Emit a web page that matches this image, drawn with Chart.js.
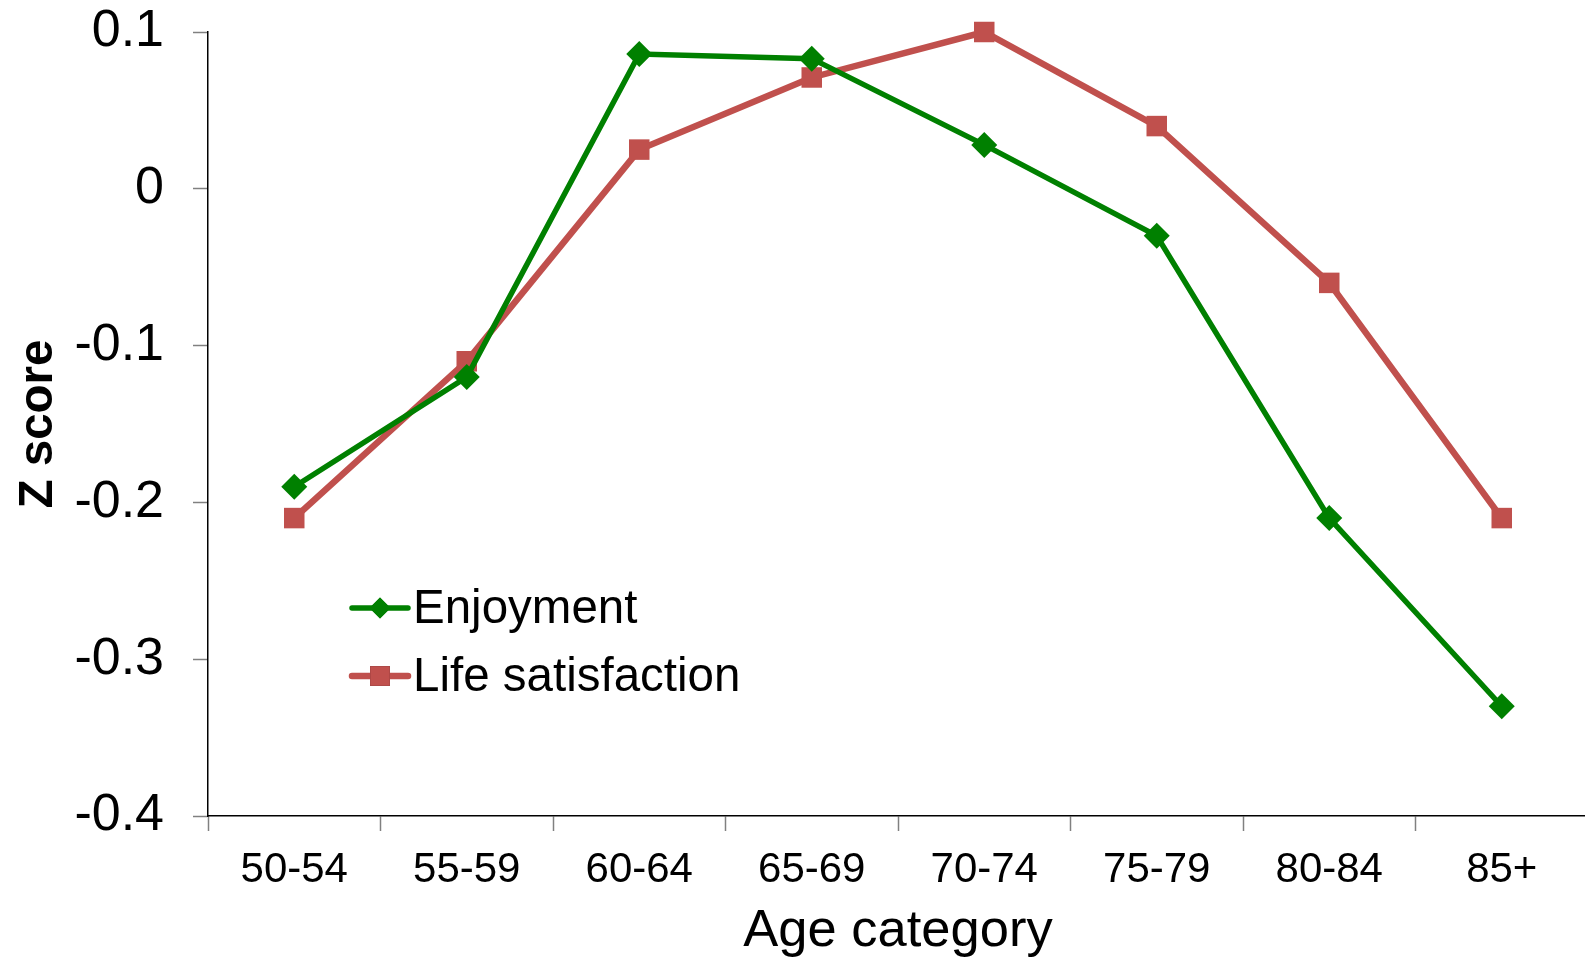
<!DOCTYPE html>
<html>
<head>
<meta charset="utf-8">
<script src="https://cdn.jsdelivr.net/npm/chart.js@4"></script>
<style>
  html, body { margin: 0; padding: 0; background: #fff; overflow: hidden; }
  canvas { display: block; }
</style>
</head>
<body>
<canvas id="chart" width="1590" height="961"></canvas>
<script>
const ageCategories = ['50-54', '55-59', '60-64', '65-69', '70-74', '75-79', '80-84', '85+'];
const enjoyment = [-0.19, -0.12, 0.086, 0.083, 0.028, -0.03, -0.21, -0.33];
const lifeSatisfaction = [-0.21, -0.11, 0.025, 0.071, 0.1, 0.04, -0.06, -0.21];
const yMin = -0.4;
const yMax = 0.1;
const yStep = 0.1;

const FONT = '"Liberation Sans", Arial, sans-serif';

// legend sits inside the plot, lower left
const insideLegend = {
  id: 'insideLegend',
  afterDraw(chart, args, opts) {
    const ctx = chart.ctx;
    ctx.save();
    chart.data.datasets.forEach((ds, i) => {
      const y = opts.y + i * opts.rowGap;
      ctx.strokeStyle = ds.borderColor;
      ctx.lineWidth = ds.borderWidth;
      ctx.lineCap = 'round';
      ctx.beginPath();
      ctx.moveTo(opts.x, y);
      ctx.lineTo(opts.x + opts.lineLen, y);
      ctx.stroke();
      Chart.helpers.drawPoint(ctx, {
        pointStyle: ds.pointStyle,
        radius: ds.pointStyle === 'rect' ? 14 : 10.5,
        borderWidth: 0
      }, opts.x + opts.lineLen / 2, y);
      ctx.fillStyle = ds.pointBackgroundColor;
      ctx.fill();
      ctx.fillStyle = '#000';
      ctx.font = opts.font;
      ctx.textBaseline = 'middle';
      ctx.textAlign = 'left';
      ctx.fillText(ds.label, opts.x + opts.lineLen + 5, y + 2);
    });
    ctx.restore();
  }
};

new Chart(document.getElementById('chart'), {
  type: 'line',
  data: {
    labels: ageCategories,
    datasets: [{
      label: 'Enjoyment',
      data: enjoyment,
      borderColor: '#008000',
      backgroundColor: '#008000',
      pointBackgroundColor: '#008000',
      pointBorderColor: '#008000',
      borderWidth: 5.5,
      pointStyle: 'rectRot',
      pointRadius: 13,
      pointBorderWidth: 0,
      tension: 0,
      clip: false
    }, {
      label: 'Life satisfaction',
      data: lifeSatisfaction,
      borderColor: '#C0504D',
      backgroundColor: '#C0504D',
      pointBackgroundColor: '#C0504D',
      pointBorderColor: '#C0504D',
      borderWidth: 6.5,
      pointStyle: 'rect',
      pointRadius: 14.5,
      pointBorderWidth: 0,
      tension: 0,
      clip: false
    }]
  },
  options: {
    responsive: false,
    animation: false,
    devicePixelRatio: 1,
    layout: { autoPadding: false, padding: { top: 32, right: 2, left: 0, bottom: 0 } },
    plugins: {
      legend: { display: false },
      tooltip: { enabled: false },
      insideLegend: {
        x: 352, y: 608, rowGap: 68, lineLen: 56,
        font: '47.5px ' + FONT
      }
    },
    scales: {
      x: {
        offset: true,
        grid: {
          offset: true,
          drawOnChartArea: false,
          drawTicks: true,
          tickLength: 15,
          tickColor: '#808080',
          tickWidth: 1.5
        },
        border: { color: '#000', width: 1.5 },
        ticks: {
          color: '#000',
          font: { family: FONT, size: 42 },
          padding: 14,
          maxRotation: 0,
          autoSkip: false
        },
        title: {
          display: true,
          text: 'Age category',
          color: '#000',
          font: { family: FONT, size: 52.5, lineHeight: 1 },
          padding: { top: 0, bottom: 3 }
        },
        afterFit(scale) {
          scale.height = 145;
          scale.paddingLeft = 0;
          scale.paddingRight = 0;
        }
      },
      y: {
        min: yMin,
        max: yMax,
        grid: {
          drawOnChartArea: false,
          drawTicks: true,
          tickLength: 15,
          tickColor: '#808080',
          tickWidth: 1.5
        },
        border: { color: '#000', width: 1.5 },
        ticks: {
          stepSize: yStep,
          color: '#000',
          font: { family: FONT, size: 52 },
          padding: 29,
          callback: v => String(Number(v.toFixed(1)))
        },
        title: {
          display: true,
          text: 'Z score',
          color: '#000',
          font: { family: FONT, size: 47.5, weight: 'bold' },
          padding: { top: 10, bottom: 0 }
        },
        afterFit(scale) {
          scale.width = 208;
          scale.paddingTop = 0;
          scale.paddingBottom = 0;
        }
      }
    }
  },
  plugins: [insideLegend]
});
</script>
</body>
</html>
